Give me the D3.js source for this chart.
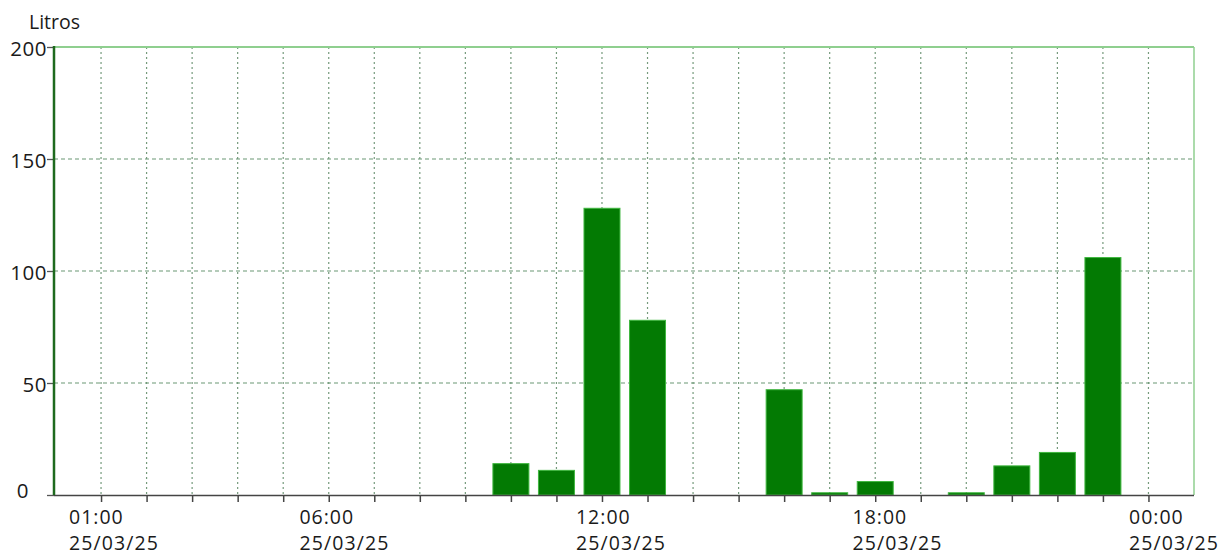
<!DOCTYPE html>
<html><head><meta charset="utf-8">
<script src="https://cdn.jsdelivr.net/npm/d3@7"></script>
<style>body{margin:0;background:#fff;} text{font-family:"Open Sans",sans-serif;fill:#1a1a1a;}</style>
</head><body>
<svg id="c" width="1228" height="556"></svg>
<script>
// Data
const hours = [0,1,2,3,4,5,6,7,8,9,10,11,12,13,14,15,16,17,18,19,20,21,22,23,24];
const litros = [0,0,0,0,0,0,0,0,0,0,14,11,128,78,0,0,47,1,6,0,1,13,19,106,0];
const xTickHours = [1,6,12,18,24];
const xTickTimes = ["01:00","06:00","12:00","18:00","00:00"];
const xTickDates = ["25/03/25","25/03/25","25/03/25","25/03/25","25/03/25"];
const yTicks = [0,50,100,150,200];
const yLabel = "Litros";

const svg = d3.select("#c");
const L = 54, R = 1194, T = 47, B = 495;
const x = d3.scaleLinear().domain([0,25]).range([55.5,1194]);
const xLab = d3.scaleLinear().domain([1,24]).range([69,1129]);
const y = d3.scaleLinear().domain([0,200]).range([B,T]);
const barW = 0.79;

// vertical grid (dotted)
svg.append("g").selectAll("line").data(hours.filter(h=>h>=1)).join("line")
  .attr("x1",d=>x(d)).attr("x2",d=>x(d)).attr("y1",T).attr("y2",B)
  .attr("stroke","#759a7c").attr("stroke-width",1.2).attr("stroke-dasharray","2,3");
// horizontal grid (dashed)
svg.append("g").selectAll("line").data(yTicks.filter(v=>v>0&&v<200)).join("line")
  .attr("x1",L).attr("x2",R).attr("y1",d=>y(d)).attr("y2",d=>y(d))
  .attr("stroke","#6a9874").attr("stroke-width",1.2).attr("stroke-dasharray","4,3");
// top and right border
svg.append("line").attr("x1",L).attr("x2",R).attr("y1",y(200)).attr("y2",y(200))
  .attr("stroke","#8fcf8f").attr("stroke-width",2);
svg.append("line").attr("x1",R).attr("x2",R).attr("y1",T).attr("y2",B)
  .attr("stroke","#8fcf8f").attr("stroke-width",1.5);

// bars
svg.append("g").selectAll("rect").data(hours.map((h,i)=>({h,v:litros[i]})).filter(d=>d.v>0)).join("rect")
  .attr("x",d=>x(d.h-barW/2)).attr("width",d=>x(barW)-x(0))
  .attr("y",d=>y(d.v)).attr("height",d=>B-y(d.v))
  .attr("fill","#037a03").attr("stroke","#3fb63f").attr("stroke-width",1);

// x axis
const xa = d3.axisBottom(x).tickValues(hours.filter(h=>h>=1&&h<=24)).tickSize(7).tickFormat("");
const gx = svg.append("g").attr("transform",`translate(0,${B})`).call(xa);
gx.select(".domain").attr("d",`M${L},0.5H${R}`).attr("stroke","#444").attr("stroke-width",1.6);
gx.selectAll(".tick line").attr("stroke","#444").attr("stroke-width",1.5);
const xl = svg.append("g").selectAll("g").data(xTickHours).join("g")
  .attr("transform",d=>`translate(${xLab(d)},0)`);
xl.append("text").attr("y",524).attr("font-size",19.5).attr("letter-spacing",1)
  .text((d,i)=>xTickTimes[i]);
xl.append("text").attr("y",550).attr("font-size",19.5).attr("letter-spacing",1.1)
  .text((d,i)=>xTickDates[i]);

// y axis
const ya = d3.axisLeft(y).tickValues(yTicks).tickSize(7).tickFormat("");
const gy = svg.append("g").attr("transform",`translate(${L},0)`).call(ya);
gy.select(".domain").remove();
gy.selectAll(".tick line").attr("stroke","#555").attr("stroke-width",1.3);
svg.append("line").attr("x1",L).attr("x2",L).attr("y1",T-1).attr("y2",B)
  .attr("stroke","#1e6a1e").attr("stroke-width",2.5);
svg.append("g").selectAll("text").data(yTicks).join("text")
  .attr("x",d=>d===0?29:47).attr("y",d=>y(d)+(d===0?3:9)).attr("text-anchor","end")
  .attr("font-size",20.5).attr("letter-spacing",0.5).text(d=>d);
svg.append("text").attr("x",29).attr("y",29).attr("font-size",19.5).text(yLabel);
</script>
</body></html>
